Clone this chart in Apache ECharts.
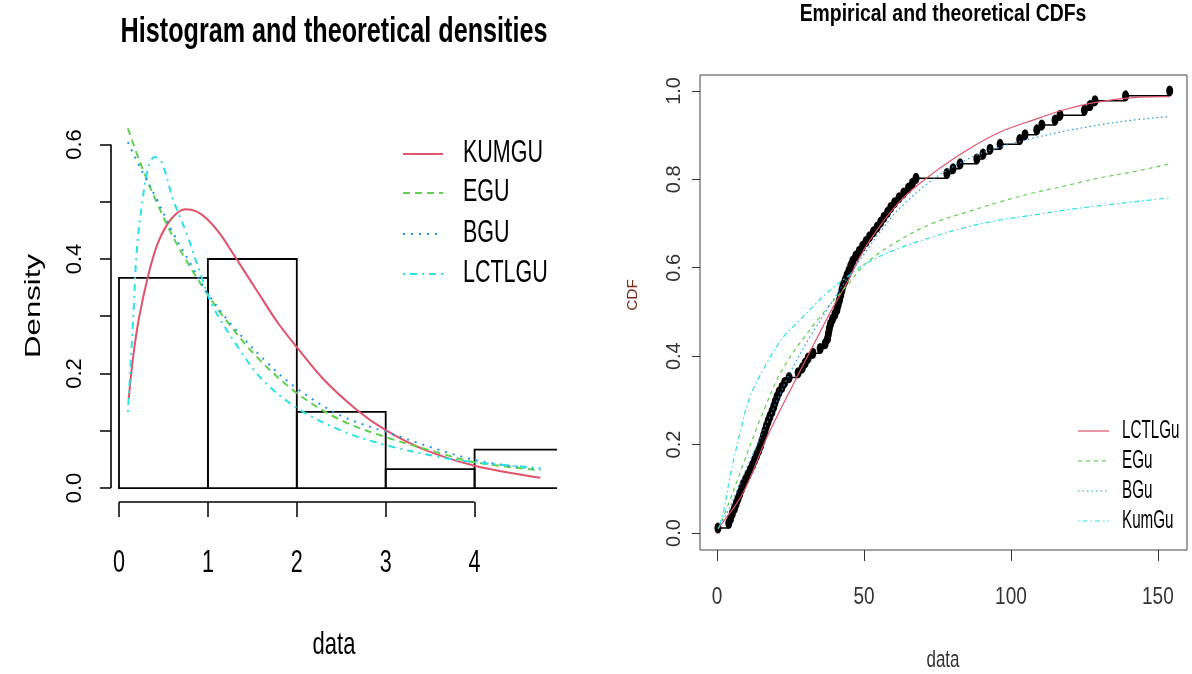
<!DOCTYPE html>
<html>
<head>
<meta charset="utf-8">
<title>Histogram and CDFs</title>
<script src="https://cdn.jsdelivr.net/npm/echarts@6/dist/echarts.min.js"></script>
<style>
  html, body { margin: 0; padding: 0; background: #fff; }
  #chart { width: 1192px; height: 674px; }
</style>
</head>
<body>
<div id="chart"></div>
<script>
// ---- left panel: histogram + fitted densities ----
const histBreaks = [0, 1, 2, 3, 4, 5]
const histDensity = [0.367, 0.4, 0.133, 0.033, 0.067]
const densXTicks = [0, 1, 2, 3, 4]
const densYTicks = [0, 0.1, 0.2, 0.3, 0.4, 0.5, 0.6]
const densYLabels = [0, 0.2, 0.4, 0.6]
const densNames = ['KUMGU', 'EGU', 'BGU', 'LCTLGU']

const kumguDens = [[0.11, 0.157], [0.16, 0.23], [0.225, 0.297], [0.33, 0.372], [0.43, 0.425], [0.54, 0.46],
  [0.65, 0.48], [0.75, 0.487], [0.87, 0.483], [0.99, 0.47], [1.13, 0.445], [1.28, 0.41], [1.55, 0.345],
  [1.78, 0.29], [2.0, 0.246], [2.3, 0.19], [2.68, 0.136], [3.0, 0.101], [3.42, 0.068], [4.0, 0.039], [4.74, 0.018]]
const eguDens = [[0.1, 0.628], [0.236, 0.569], [0.43, 0.497], [0.61, 0.438], [0.8, 0.386], [0.99, 0.34],
  [1.17, 0.30], [1.55, 0.229], [2.0, 0.166], [2.49, 0.119], [3.0, 0.089], [3.61, 0.061], [4.0, 0.045], [4.74, 0.031]]
const bguDens = [[0.1, 0.604], [0.236, 0.56], [0.43, 0.503], [0.61, 0.445], [0.8, 0.393], [0.99, 0.342],
  [1.25, 0.288], [1.66, 0.22], [2.0, 0.174], [2.49, 0.127], [3.0, 0.098], [4.0, 0.049], [4.74, 0.033]]
const lctlguDens = [[0.1, 0.133], [0.16, 0.297], [0.2, 0.415], [0.26, 0.497], [0.33, 0.56], [0.4, 0.578],
  [0.48, 0.569], [0.61, 0.503], [0.76, 0.445], [0.93, 0.368], [1.06, 0.316], [1.36, 0.241], [1.62, 0.188],
  [2.0, 0.14], [2.49, 0.101], [3.0, 0.075], [3.61, 0.054], [4.0, 0.045], [4.74, 0.035]]

// ---- right panel: empirical + theoretical CDFs ----
const cdfXTicks = [0, 50, 100, 150]
const cdfYTicks = [0, 0.2, 0.4, 0.6, 0.8, 1]
const cdfNames = ['LCTLGu', 'EGu', 'BGu', 'KumGu']
const obsData = [0.3, 4.0, 4.6, 5.2, 5.9, 6.5, 7.1, 7.7, 8.3, 8.9, 9.7, 10.5, 11.3, 12.1, 12.8, 13.5, 14.2,
  14.8, 15.3, 15.8, 16.3, 16.8, 17.4, 18.0, 18.7, 19.3, 19.8, 20.4, 21.1, 22.1, 23.0, 24.5, 27.6, 29.0, 30.0,
  31.0, 32.6, 35.1, 36.8, 37.6, 37.9, 38.2, 38.6, 39.3, 40.1, 40.8, 41.2, 41.7, 42.1, 42.5, 42.9, 43.6, 44.2,
  44.9, 45.5, 46.2, 47.2, 48.4, 49.5, 50.7, 51.9, 53.2, 54.5, 55.7, 56.8, 58.0, 59.1, 60.4, 61.9, 63.5, 65.1,
  66.5, 67.7, 78.2, 80.3, 82.7, 88.4, 90.5, 92.9, 96.3, 103, 104.8, 108.8, 110.5, 115, 116.7, 125, 126.9,
  128.6, 139, 154]
const lctlguCdf = [[0.4, 0.011], [8.8, 0.09], [17, 0.217], [27.2, 0.353], [34, 0.441], [39.5, 0.511],
  [44.2, 0.566], [51, 0.652], [62.2, 0.75], [73.5, 0.814], [85, 0.866], [96.3, 0.907], [107.5, 0.934],
  [119, 0.959], [130, 0.975], [141.5, 0.985], [154, 0.987]]
const eguCdf = [[0.4, 0.01], [2.7, 0.045], [7.8, 0.136], [14.6, 0.256], [22.5, 0.373], [34, 0.48],
  [44.2, 0.56], [51, 0.612], [62.2, 0.663], [73.5, 0.701], [85, 0.726], [96.3, 0.749], [107.5, 0.769],
  [119, 0.786], [130, 0.803], [141.5, 0.817], [154, 0.835]]
const bguCdf = [[0.4, 0.01], [4.4, 0.059], [10.2, 0.149], [17, 0.249], [24.8, 0.362], [31.6, 0.443],
  [39.5, 0.527], [44.2, 0.575], [51, 0.64], [56.5, 0.69], [62.2, 0.735], [73.5, 0.8], [85, 0.845],
  [96.3, 0.873], [107.5, 0.893], [119, 0.91], [130, 0.923], [141.5, 0.934], [154, 0.942]]
const kumguCdf = [[0.4, 0.01], [2.1, 0.045], [4.4, 0.127], [7.8, 0.226], [11.2, 0.308], [17, 0.385],
  [22.5, 0.443], [28.2, 0.482], [37.4, 0.543], [44.2, 0.579], [51, 0.611], [62.2, 0.645], [73.5, 0.67],
  [85, 0.692], [96.3, 0.708], [107.5, 0.719], [119, 0.731], [130, 0.74], [141.5, 0.749], [154, 0.758]]

const RED = '#DF536B'
const GREEN = '#61D04F'
const BLUE = '#2297E6'
const CYAN = '#28E2E5'
const SANS = "'Liberation Sans', Arial, sans-serif"

// line styles: solid, dashed, dotted, dot-dash (R lty 1..4)
const lineColors = [RED, GREEN, BLUE, CYAN]
const densDash = ['solid', [7, 5], [2, 6], [2, 5, 7, 5]]
const cdfDash = ['solid', [4, 4], [1.5, 3], [1.5, 3, 5, 3]]

// plot regions in data units (R pads the data range by 4%)
const densX = [-0.09, 4.927]
const densY = [-0.0244, 0.634]
const cdfX = [-5.8, 159.9]
const cdfY = [-0.0385, 1.036]

// empirical cdf from the sorted observations
const ecdf = obsData.map((x, i) => [x, (i + 1) / obsData.length])

const chart = echarts.init(document.getElementById('chart'))

function curve(name, data, color, width, type, idx) {
  return {
    name: name,
    type: 'line',
    xAxisIndex: idx,
    yAxisIndex: idx,
    data: data,
    smooth: 0.35,
    symbol: 'none',
    lineStyle: { color: color, width: width, type: type },
    itemStyle: { color: color },
    z: 3
  }
}

// R draws the text narrow and tall, so stretch it vertically
function hText(x, y, text, size, sy, extra) {
  return {
    type: 'text',
    x: x,
    y: y,
    scaleY: sy,
    silent: true,
    style: Object.assign({
      text: text,
      fontFamily: SANS,
      fontSize: size,
      fill: '#000',
      align: 'center',
      verticalAlign: 'middle'
    }, extra || {})
  }
}

function vText(x, y, text, size, sx, fill) {
  return {
    type: 'text',
    x: x,
    y: y,
    rotation: Math.PI / 2,
    scaleX: sx,
    silent: true,
    style: { text: text, fontFamily: SANS, fontSize: size, fill: fill, align: 'center', verticalAlign: 'middle' }
  }
}

function segment(x1, y1, x2, y2, color, width, dash) {
  return {
    type: 'line',
    silent: true,
    z: 10,
    shape: { x1: x1, y1: y1, x2: x2, y2: y2 },
    style: { stroke: color, lineWidth: width, lineDash: dash === 'solid' ? null : dash }
  }
}

chart.setOption({
  animation: false,
  backgroundColor: '#fff',
  grid: [
    { left: 111, top: 125, width: 446, height: 377 },
    { left: 700, top: 75, width: 487, height: 475, show: true, borderColor: '#444', borderWidth: 1 }
  ],
  xAxis: [
    {
      gridIndex: 0,
      type: 'value',
      min: densX[0],
      max: densX[1],
      axisLine: { show: false, onZero: false },
      splitLine: { show: false },
      axisTick: { customValues: densXTicks, length: 15, lineStyle: { color: '#000', width: 1.5 } },
      axisLabel: { show: false }
    },
    {
      gridIndex: 1,
      type: 'value',
      min: cdfX[0],
      max: cdfX[1],
      axisLine: { show: false, onZero: false },
      splitLine: { show: false },
      axisTick: { customValues: cdfXTicks, length: 11, lineStyle: { color: '#333', width: 1 } },
      axisLabel: { show: false }
    }
  ],
  yAxis: [
    {
      gridIndex: 0,
      type: 'value',
      min: densY[0],
      max: densY[1],
      axisLine: { show: false, onZero: false },
      splitLine: { show: false },
      axisTick: { customValues: densYTicks, length: 11, lineStyle: { color: '#000', width: 1.5 } },
      axisLabel: {
        customValues: densYLabels,
        rotate: 90,
        margin: 25,
        fontFamily: SANS,
        fontSize: 22,
        color: '#000',
        formatter: v => v.toFixed(1)
      }
    },
    {
      gridIndex: 1,
      type: 'value',
      min: cdfY[0],
      max: cdfY[1],
      axisLine: { show: false, onZero: false },
      splitLine: { show: false },
      axisTick: { customValues: cdfYTicks, length: 8, lineStyle: { color: '#333', width: 1 } },
      axisLabel: {
        customValues: cdfYTicks,
        rotate: 90,
        margin: 16,
        fontFamily: SANS,
        fontSize: 20,
        color: '#333',
        formatter: v => v.toFixed(1)
      }
    }
  ],
  series: [
    {
      type: 'custom',
      xAxisIndex: 0,
      yAxisIndex: 0,
      clip: true,
      silent: true,
      data: histDensity.map((d, i) => [histBreaks[i], histBreaks[i + 1], d]),
      encode: { x: [0, 1], y: 2 },
      renderItem(params, api) {
        const p0 = api.coord([api.value(0), 0])
        const p1 = api.coord([api.value(1), api.value(2)])
        return {
          type: 'rect',
          shape: { x: p0[0], y: p1[1], width: p1[0] - p0[0], height: p0[1] - p1[1] },
          style: { fill: 'none', stroke: '#000', lineWidth: 1.8 }
        }
      },
      z: 2
    },
    {
      // R's axis lines only run from the first to the last tick
      type: 'custom',
      xAxisIndex: 0,
      yAxisIndex: 0,
      clip: false,
      silent: true,
      data: [[densXTicks[0], densYTicks[0]]],
      renderItem(params, api) {
        const xa = api.coord([densXTicks[0], densY[0]])
        const xb = api.coord([densXTicks[densXTicks.length - 1], densY[0]])
        const ya = api.coord([densX[0], densYTicks[0]])
        const yb = api.coord([densX[0], densYTicks[densYTicks.length - 1]])
        const style = { stroke: '#000', lineWidth: 1.6 }
        return {
          type: 'group',
          children: [
            { type: 'line', shape: { x1: xa[0], y1: xa[1], x2: xb[0], y2: xb[1] }, style: style },
            { type: 'line', shape: { x1: ya[0], y1: ya[1], x2: yb[0], y2: yb[1] }, style: style }
          ]
        }
      },
      z: 5
    },
    curve(densNames[0], kumguDens, RED, 2, densDash[0], 0),
    curve(densNames[1], eguDens, GREEN, 2, densDash[1], 0),
    curve(densNames[2], bguDens, BLUE, 2, densDash[2], 0),
    curve(densNames[3], lctlguDens, CYAN, 2, densDash[3], 0),
    {
      name: 'ecdf',
      type: 'line',
      xAxisIndex: 1,
      yAxisIndex: 1,
      data: ecdf,
      step: 'end',
      symbol: 'circle',
      symbolSize: [7, 11],
      showAllSymbol: true,
      lineStyle: { color: '#000', width: 1.5 },
      itemStyle: { color: '#000' },
      z: 2
    },
    curve(cdfNames[0], lctlguCdf, RED, 1.2, cdfDash[0], 1),
    curve(cdfNames[1], eguCdf, GREEN, 1.2, cdfDash[1], 1),
    curve(cdfNames[2], bguCdf, BLUE, 1.2, cdfDash[2], 1),
    curve(cdfNames[3], kumguCdf, CYAN, 1.2, cdfDash[3], 1)
  ]
})

// texts and legends, placed from the axes once they exist
const xPix = (idx, v) => chart.convertToPixel({ xAxisIndex: idx }, v)
const graphics = [
  hText(334, 33, 'Histogram and theoretical densities', 25.2, 1.36, { fontWeight: 'bold' }),
  hText(943, 14, 'Empirical and theoretical CDFs', 19.4, 1.22, { fontWeight: 'bold' }),
  hText(334, 645, 'data', 22, 1.45),
  hText(943, 660, 'data', 17, 1.45, { fill: '#333' }),
  vText(34, 306, 'Density', 21.5, 1.45, '#000'),
  vText(633, 295, 'CDF', 14, 1.1, '#7a2e1a')
]
densXTicks.forEach(v => graphics.push(hText(xPix(0, v), 564, String(v), 21.6, 1.42)))
cdfXTicks.forEach(v => graphics.push(hText(xPix(1, v), 597, String(v), 19, 1.3, { fill: '#333' })))

const densRows = [154, 193, 234, 274]
densNames.forEach((n, i) => {
  graphics.push(segment(403, densRows[i], 443, densRows[i], lineColors[i], 2, densDash[i]))
  graphics.push(hText(463, densRows[i], n, 21.5, 1.42, { align: 'left' }))
})
const cdfRows = [431, 461, 491, 521]
cdfNames.forEach((n, i) => {
  graphics.push(segment(1078, cdfRows[i], 1109, cdfRows[i], lineColors[i], 1.2, cdfDash[i]))
  graphics.push(hText(1122, cdfRows[i], n, 15.2, 1.75, { align: 'left' }))
})

chart.setOption({ graphic: graphics })
</script>
</body>
</html>
